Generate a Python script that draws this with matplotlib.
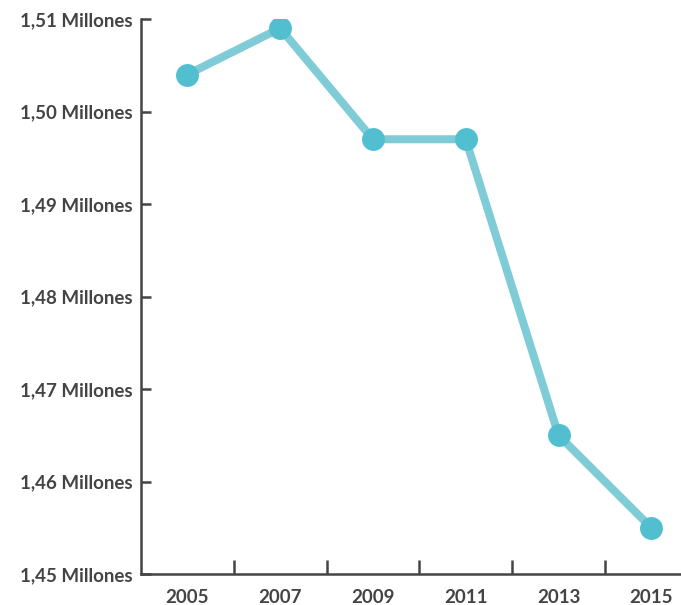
import matplotlib.pyplot as plt
import numpy as np

years = [2005, 2007, 2009, 2011, 2013, 2015]
values = [1.504, 1.509, 1.497, 1.497, 1.465, 1.455]  # millones

y_ticks = [1.45, 1.46, 1.47, 1.48, 1.49, 1.50, 1.51]
y_labels = ["1,45 Millones", "1,46 Millones", "1,47 Millones", "1,48 Millones",
            "1,49 Millones", "1,50 Millones", "1,51 Millones"]
x_major = [2006, 2008, 2010, 2012, 2014]

text_color = "#444444"
plt.rcParams["font.family"] = ["Lato", "DejaVu Sans"]

fig = plt.figure(figsize=(6.81, 6.05), dpi=100)
ax = fig.add_axes([141 / 681, 31 / 605, 1 - 141 / 681, (574 - 19) / 605])

ax.plot(years, values, color="#80ccd6", lw=5.8, solid_capstyle="butt", zorder=2)
ax.plot(years, values, "o", color="#52bfd0", ms=16.5, mew=0, zorder=3)

ax.set_xlim(2004, 2015.64)
ax.set_ylim(1.45, 1.51)

for side in ["top", "right"]:
    ax.spines[side].set_visible(False)
for side in ["left", "bottom"]:
    ax.spines[side].set_color(text_color)
    ax.spines[side].set_linewidth(1.8)

ax.set_yticks(y_ticks)
ax.set_yticklabels(y_labels)
ax.tick_params(axis="y", direction="in", length=7, width=1.8, color=text_color,
               pad=6, labelsize=13.5, labelcolor=text_color)

# ticks sit between the labelled years
ax.set_xticks(x_major)
ax.set_xticklabels([])
ax.set_xticks(years, minor=True)
ax.set_xticklabels([str(y) for y in years], minor=True)
ax.tick_params(axis="x", which="major", direction="in", length=10, width=1.8,
               color=text_color)
ax.tick_params(axis="x", which="minor", length=0, pad=11, labelsize=13.5,
               labelcolor=text_color)

for lbl in ax.get_yticklabels() + ax.get_xticklabels(minor=True):
    lbl.set_fontweight("bold")

fig.savefig("out.png", dpi=100)
